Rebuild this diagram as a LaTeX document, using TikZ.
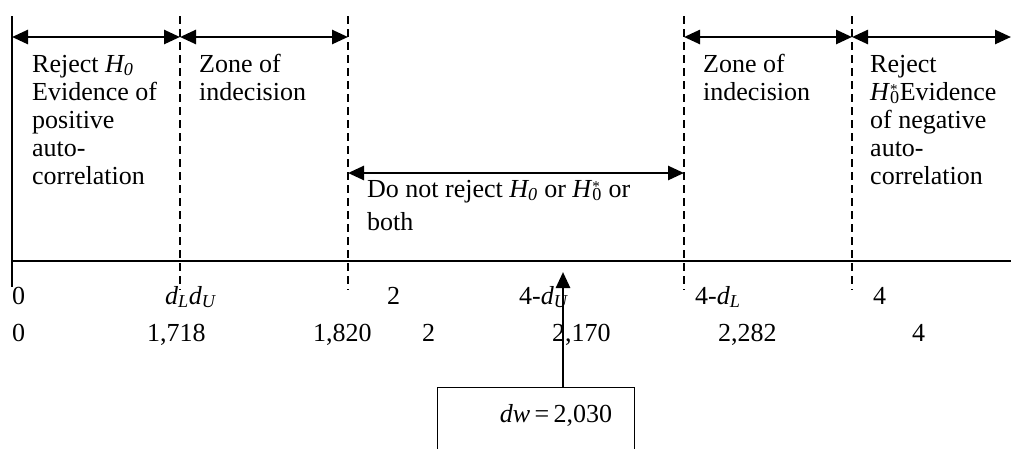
\documentclass[tikz,border=0pt]{standalone}
\usepackage{fontspec}
\setmainfont{Liberation Serif}
\usetikzlibrary{arrows.meta}

\tikzset{
  zonearrow/.style={line width=2.6pt, {Triangle[length=16pt,width=14pt]}-{Triangle[length=16pt,width=14pt]}},
  bound/.style={line width=1.5pt, dash pattern=on 8pt off 5pt},
  axisline/.style={line width=1.8pt},
  % multi-line labels are placed by the baseline of their last line
  lbl/.style={inner sep=0pt, anchor=base west, align=left,
    font=\fontsize{26}{28}\selectfont},
  tick/.style={inner sep=0pt, anchor=base west, font=\fontsize{26}{28}\selectfont},
}
% H sub 0 with a star above the subscript
\newcommand{\Hstar}{\textit{H}\rlap{\raisebox{6pt}{\fontsize{15}{15}\selectfont *}}\textsubscript{0}}

\begin{document}
\begin{tikzpicture}[x=1pt,y=-1pt]
\useasboundingbox (0,0) rectangle (1011,448);
\clip (0,0) rectangle (1011,448);

% boundaries of the decision zones (top and bottom ends)
\coordinate (z0t) at (12,16);   \coordinate (z0b) at (12,287);
\coordinate (dLt) at (180,16);  \coordinate (dLb) at (180,290);
\coordinate (dUt) at (348,16);  \coordinate (dUb) at (348,290);
\coordinate (eUt) at (684,16);  \coordinate (eUb) at (684,290);
\coordinate (eLt) at (852,16);  \coordinate (eLb) at (852,290);
\coordinate (axL) at (12,261);  \coordinate (axR) at (1011,261);
\coordinate (rEnd) at (1011,37);

\draw[line width=1.8pt] (z0t) -- (z0b);
\foreach \t/\b in {dLt/dLb, dUt/dUb, eUt/eUb, eLt/eLb}
  \draw[bound] (\t) -- (\b);
\draw[axisline] (axL) -- (axR);

% zone extents
\draw[zonearrow] (z0t |- rEnd) -- (dLt |- rEnd);
\draw[zonearrow] (dLt |- rEnd) -- (dUt |- rEnd);
\draw[zonearrow] (eUt |- rEnd) -- (eLt |- rEnd);
\draw[zonearrow] (eLt |- rEnd) -- (rEnd);
\coordinate (midy) at (0,173);
\draw[zonearrow] (dUt |- midy) -- (eUt |- midy);

% zone descriptions
\node[lbl] (rejL) at (32,184) {Reject \textit{H\textsubscript{0}}\\Evidence of\\positive\\auto-\\correlation};
\node[lbl] (zoneL) at (199,100) {Zone of\\indecision};
\node[lbl] (keep) at (367,230) {Do not reject \textit{H\textsubscript{0}} or \Hstar{} or\\[5pt]both};
\node[lbl] (zoneR) at (703,100) {Zone of\\indecision};
\node[lbl] (rejR) at (870,184) {Reject\\\Hstar Evidence\\of negative\\auto-\\correlation};

% symbolic bounds
\node[tick] (s0) at (12,304) {0};
\node[tick] (sLU) at (165,304) {\textit{d\textsubscript{L}d\textsubscript{U}}};
\node[tick] (s2) at (387,304) {2};
\node[tick] (s4U) at (519,304) {4-\textit{d\textsubscript{U}}};
\node[tick] (s4L) at (695,304) {4-\textit{d\textsubscript{L}}};
\node[tick] (s4) at (873,304) {4};

% numeric bounds
\node[tick] (n0) at (12,341) {0};
\node[tick] (nL) at (147,341) {1,718};
\node[tick] (nU) at (313,341) {1,820};
\node[tick] (n2) at (422,341) {2};
\node[tick] (n4U) at (552,341) {2,170};
\node[tick] (n4L) at (718,341) {2,282};
\node[tick] (n4) at (912,341) {4};

% observed statistic
\node[draw, line width=1.3pt, minimum width=197pt, minimum height=76pt, anchor=north west,
      inner sep=0pt] (dwbox) at (437,387) {};
\node[tick, anchor=base] (dwtext) at (556,422) {\textit{dw}\,=\,2,030};
\coordinate (dwtip) at (563,272);
\draw[line width=2.6pt, -{Triangle[length=16pt,width=14pt]}] (dwbox.north -| dwtip) -- (dwtip);
\end{tikzpicture}
\end{document}
